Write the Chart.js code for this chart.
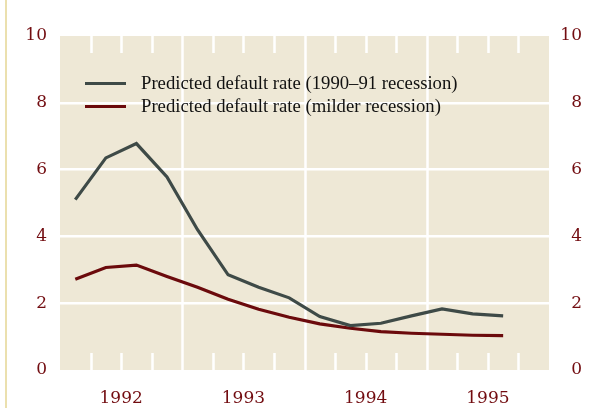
<!DOCTYPE html>
<html>
<head>
<meta charset="utf-8">
<script src="https://cdn.jsdelivr.net/npm/chart.js@4.4.1/dist/chart.umd.min.js"></script>
<style>
  html, body { margin: 0; padding: 0; background: #fff; }
  #wrap { position: relative; width: 593px; height: 408px; }
  #edge { position: absolute; left: 5px; top: 0; width: 2px; height: 408px; background: #ebe0ae; }
  #legend { position: absolute; left: 85px; top: 71px; font-family: "Liberation Serif", serif; font-size: 18.7px; color: #111; }
  #legend div { height: 23px; line-height: 23px; white-space: nowrap; }
  #legend span.sw { display: inline-block; width: 41px; height: 3px; vertical-align: middle; margin-right: 15px; position: relative; top: -1px; }
</style>
</head>
<body>
<div id="wrap">
  <div id="edge"></div>
  <canvas id="chart" width="593" height="408"></canvas>
  <div id="legend"></div>
</div>
<script>
// quarters from 1992 Q1 to 1995 Q3, x = quarter index (midpoint)
var years = ["1992", "1993", "1994", "1995"]
var quarterX = [0.5, 1.5, 2.5, 3.5, 4.5, 5.5, 6.5, 7.5, 8.5, 9.5, 10.5, 11.5, 12.5, 13.5, 14.5]
var severe = [5.1, 6.35, 6.78, 5.78, 4.2, 2.85, 2.48, 2.16, 1.6, 1.33, 1.4, 1.62, 1.83, 1.68, 1.62]
var milder = [2.72, 3.07, 3.14, 2.8, 2.48, 2.12, 1.82, 1.58, 1.38, 1.25, 1.15, 1.1, 1.07, 1.04, 1.03]
var yTicks = [0, 2, 4, 6, 8, 10]

var labelColor = "#720c10"
var gray = "#3e4a47"
var red = "#6b0a0c"

function pts(vals) {
    return vals.map(function(v, i){ return {x: quarterX[i], y: v} })
}

var series = [
    {label: "Predicted default rate (1990\u201391 recession)", data: pts(severe), color: gray},
    {label: "Predicted default rate (milder recession)", data: pts(milder), color: red}
]

// html legend
var leg = document.getElementById("legend")
series.forEach(function(s){
    var d = document.createElement("div")
    d.innerHTML = '<span class="sw" style="background:' + s.color + '"></span>'
    d.appendChild(document.createTextNode(s.label))
    leg.appendChild(d)
})

var panel = {
    id: "panel",
    beforeDraw: function(chart){
        var a = chart.chartArea, c = chart.ctx
        c.save()
        c.fillStyle = "#eee8d6"
        c.fillRect(a.left, a.top, a.right - a.left, a.bottom - a.top)
        c.restore()
    },
    beforeDatasetsDraw: function(chart){
        var a = chart.chartArea, c = chart.ctx, xs = chart.scales.x
        c.save()
        c.strokeStyle = "#ffffff"
        c.lineWidth = 2.5
        for (var q = 1; q < 16; q++) {
            var px = Math.round(xs.getPixelForValue(q)) + 0.5
            c.beginPath()
            if (q % 4 === 0) {
                c.moveTo(px, a.top); c.lineTo(px, a.bottom)
            } else {
                c.moveTo(px, a.top); c.lineTo(px, a.top + 17)
                c.moveTo(px, a.bottom - 17); c.lineTo(px, a.bottom)
            }
            c.stroke()
        }
        c.restore()
    }
}

var tickFont = {family: "'DejaVu Serif', serif", size: 17}

new Chart(document.getElementById("chart").getContext("2d"), {
    type: "line",
    data: {
        datasets: series.map(function(s){
            return {
                label: s.label,
                data: s.data,
                borderColor: s.color,
                borderWidth: 3.2,
                pointRadius: 0,
                tension: 0,
                fill: false
            }
        })
    },
    options: {
        responsive: false,
        animation: false,
        layout: {padding: {top: 36, right: 11, left: 0, bottom: 0}},
        plugins: {legend: {display: false}, tooltip: {enabled: false}},
        scales: {
            x: {
                type: "linear",
                min: 0, max: 16,
                afterBuildTicks: function(ax){ ax.ticks = years.map(function(y, i){ return {value: 2 + i * 4} }) },
                afterFit: function(ax){ ax.height = 38 },
                ticks: {
                    color: labelColor, font: tickFont, padding: 10, maxRotation: 0,
                    callback: function(v, i){ return years[i] }
                },
                grid: {display: false},
                border: {display: false}
            },
            y: {
                position: "left",
                min: 0, max: 10,
                afterBuildTicks: function(ax){ ax.ticks = yTicks.map(function(v){ return {value: v} }) },
                afterFit: function(ax){ ax.width = 60 },
                ticks: {color: labelColor, font: tickFont, padding: 13},
                grid: {
                    drawTicks: false,
                    lineWidth: 2.5,
                    color: function(ctx){ var v = ctx.tick && ctx.tick.value; return (v === 0 || v === 10) ? "rgba(0,0,0,0)" : "#ffffff" }
                },
                border: {display: false}
            },
            y2: {
                position: "right",
                min: 0, max: 10,
                afterBuildTicks: function(ax){ ax.ticks = yTicks.map(function(v){ return {value: v} }) },
                afterFit: function(ax){ ax.width = 33 },
                ticks: {color: labelColor, font: tickFont, padding: 13, crossAlign: "far"},
                grid: {display: false, drawTicks: false},
                border: {display: false}
            }
        }
    },
    plugins: [panel]
})
</script>
</body>
</html>
